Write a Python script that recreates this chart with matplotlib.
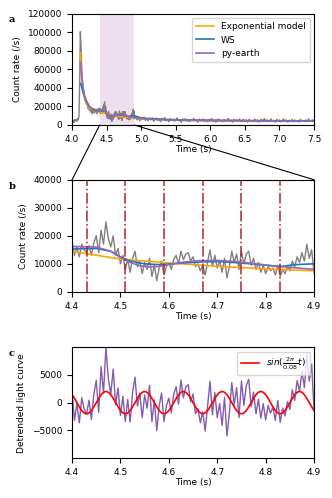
import numpy as np
import matplotlib
matplotlib.use('Agg')
import matplotlib.pyplot as plt
from matplotlib.patches import ConnectionPatch

# raw light curve in three pieces
t_rise = np.round(4.0 + 0.01 * np.arange(40), 3)
c_rise = [4000, 2500, 5000, 3000, 6000, 4500, 5500, 4000, 7000, 6000,
          9000, 45000, 101000, 85000, 62000, 48000, 40000, 35000, 31000, 26000,
          28000, 22000, 24000, 18000, 20000, 16000, 19000, 14000, 17000, 12000,
          15000, 18000, 13000, 16000, 14000, 17000, 12000, 15000, 18000, 14000]

t_zoom = np.round(4.4 + 0.005 * np.arange(100), 4)
c_zoom = [18000, 13000, 16000, 12500, 17000, 15000, 14000, 16500, 13000, 17500,
          20000, 14000, 22000, 17000, 25000, 19000, 16000, 20000, 13000, 15500,
          10000, 13000, 8000, 11500, 7000, 12000, 14500, 9000, 11000, 6500,
          10500, 8000, 12000, 5500, 9500, 4000, 8500, 11000, 6000, 9000,
          10500, 8000, 11500, 13000, 10000, 14500, 11500, 13500, 14000, 11000,
          12500, 9000, 10000, 7500, 9500, 6000, 10500, 15000, 9000, 13000,
          8500, 11000, 7000, 12000, 5000, 9000, 14500, 10500, 13500, 8000,
          14500, 10000, 13500, 14500, 9500, 12000, 8000, 10500, 7000, 9500,
          6500, 9000, 7500, 8500, 6000, 9500, 5500, 8000, 6500, 9000,
          7500, 11000, 9000, 12500, 10500, 14000, 11000, 17000, 12000, 15000]

c_tail = [6500, 9000, 5500, 8000, 4500, 7500, 6000, 8500, 5000, 7000,
          4500, 7500, 5500, 8000, 4000, 6500, 7500, 5000, 6000, 3500,
          7000, 5500, 8000, 4500, 6000, 3500, 7000, 5000, 6500, 4000,
          6000, 7500, 4500, 5500, 3000, 6500, 5000, 7000, 4000, 5500,
          3500, 6000, 5000, 7000, 4500, 5500, 3000, 6500, 4500, 5000,
          6500, 4000, 5500, 3500, 6000, 5000, 7000, 4000, 5500, 3000,
          5500, 6500, 4500, 5000, 3500, 6000, 4000, 5500, 7000, 4500,
          5000, 3000, 6000, 4500, 5500, 4000, 6500, 3500, 5000, 6000,
          4000, 5500, 3000, 6000, 4500, 5000, 3500, 6500, 4500, 5500,
          3000, 5000, 6000, 4000, 7000, 4500, 5500, 3500, 5000, 6500,
          4000, 5000, 3000, 6000, 4500, 5500, 3500, 5000, 6500, 4000,
          5500, 3000, 5000, 4500, 6000, 3500, 5500, 4000, 5000, 3000,
          6000, 4500, 5000, 3500, 5500, 4000, 6500, 4500, 5000, 5500, 4000]
t_tail = np.round(4.9 + 0.02 * np.arange(len(c_tail)), 3)

time = np.concatenate([t_rise, t_zoom, t_tail])
rate = np.array(c_rise + c_zoom + c_tail, dtype=float)

# fitted trends
t_exp = [4.12, 4.13, 4.14, 4.16, 4.18, 4.20, 4.25, 4.30, 4.35, 4.40, 4.50, 4.60,
         4.70, 4.80, 4.90, 5.00, 5.25, 5.50, 6.00, 6.50, 7.00, 7.50]
c_exp = [78000, 62000, 50000, 37000, 29000, 24000, 18000, 16000, 15000, 14450,
         11700, 10300, 9100, 8200, 7500, 6900, 6000, 5400, 4800, 4500, 4300, 4200]

t_ws = [4.12, 4.13, 4.16, 4.20, 4.25, 4.30, 4.35, 4.40, 4.45, 4.48, 4.50, 4.52,
        4.55, 4.58, 4.60, 4.63, 4.67, 4.70, 4.75, 4.80, 4.83, 4.86, 4.90, 5.00,
        5.20, 5.50, 6.00, 6.50, 7.00, 7.50]
c_ws = [45000, 44000, 35000, 27000, 20000, 16500, 15500, 15300, 15500, 14500,
        12500, 11000, 10000, 9700, 9900, 10300, 10700, 10800, 10300, 9500,
        9000, 9700, 10000, 7500, 6500, 5500, 5000, 4700, 4500, 4400]

t_pe = [4.12, 4.14, 4.16, 4.18, 4.20, 4.25, 4.30, 4.35, 4.40, 4.45, 4.48, 4.50,
        4.52, 4.54, 4.56, 4.58, 4.60, 4.63, 4.66, 4.70, 4.74, 4.78, 4.82, 4.86,
        4.90, 5.00, 5.20, 5.50, 6.00, 6.50, 7.00, 7.50]
c_pe = [68000, 52000, 40000, 32000, 27000, 20000, 17000, 16500, 16200, 16000,
        14500, 12300, 10500, 9300, 8900, 9100, 9700, 10600, 11100, 11200,
        10800, 10000, 9200, 8600, 8000, 7000, 6000, 5200, 4800, 4500, 4300, 4200]

# oscillation markers and sine model
t_marks = [4.43, 4.51, 4.59, 4.67, 4.75, 4.83]
period = 0.08
amp = 2000
t_peak = 4.47

plt.rcParams['font.size'] = 6.5
fig = plt.figure(figsize=(3.32, 4.98), dpi=100)

ax1 = fig.add_axes([0.217, 0.749, 0.729, 0.223])
ax2 = fig.add_axes([0.217, 0.414, 0.729, 0.225])
ax3 = fig.add_axes([0.217, 0.080, 0.729, 0.223])

# a
ax1.axvspan(4.4, 4.9, color='purple', alpha=0.12, lw=0)
ax1.plot(time, rate, color='gray', lw=1)
ax1.plot(t_exp, c_exp, color='orange', lw=1.2, label='Exponential model')
ax1.plot(t_ws, c_ws, color='tab:blue', lw=1.2, label='WS')
ax1.plot(t_pe, c_pe, color='tab:purple', lw=1.2, label='py-earth')
ax1.set_xlim(4.0, 7.5)
ax1.set_ylim(0, 120000)
ax1.set_xlabel('Time (s)', labelpad=1)
ax1.set_ylabel('Count rate (/s)')
ax1.legend(loc='upper right')

# b
ax2.plot(time, rate, color='gray', lw=1)
ax2.plot(t_exp, c_exp, color='orange', lw=1.2)
ax2.plot(t_ws, c_ws, color='tab:blue', lw=1.2)
ax2.plot(t_pe, c_pe, color='tab:purple', lw=1.2)
for tm in t_marks:
    ax2.axvline(tm, color='firebrick', ls='-.', lw=1.2, alpha=0.9)
ax2.set_xlim(4.4, 4.9)
ax2.set_ylim(0, 40000)
ax2.set_xlabel('Time (s)', labelpad=1)
ax2.set_ylabel('Count rate (/s)')

for x in (4.4, 4.9):
    con = ConnectionPatch(xyA=(x, 0), coordsA=ax1.transData,
                          xyB=(x, 40000), coordsB=ax2.transData,
                          color='black', lw=0.8)
    fig.add_artist(con)

# c
t_c = np.append(t_zoom, 4.9)
detr = np.append(c_zoom, c_tail[0]) - np.interp(t_c, t_pe, c_pe)
ts = np.linspace(4.4, 4.9, 400)
ax3.plot(t_c, detr, color='rebeccapurple', lw=1, alpha=0.8)
ax3.plot(ts, amp * np.cos(2 * np.pi / period * (ts - t_peak)), color='red', lw=1.2,
         label=r'$sin(\frac{2\pi}{0.08}t)$')
ax3.set_xlim(4.4, 4.9)
ax3.set_ylim(-10000, 10000)
ax3.set_yticks([-5000, 0, 5000])
ax3.set_xlabel('Time (s)', labelpad=1)
ax3.set_ylabel('Detrended light curve')
ax3.legend(loc='upper right')

for lab, y in (('a', 0.955), ('b', 0.62), ('c', 0.285)):
    fig.text(0.025, y, lab, fontweight='bold', family='DejaVu Serif', fontsize=7)

fig.savefig('out.png', dpi=100)
